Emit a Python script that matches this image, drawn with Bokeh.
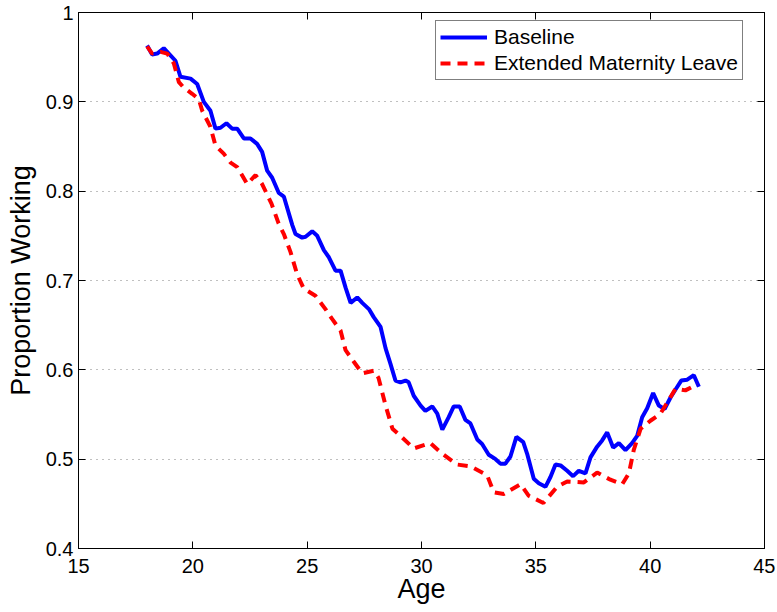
from bokeh.plotting import figure
from bokeh.models import (LinearAxis, FixedTicker, NumeralTickFormatter, Legend,
                          LegendItem, Range1d, CustomLabelingPolicy)
from bokeh.embed import file_html
from bokeh.resources import INLINE

# ---- data ----
baseline_age = [18.0, 18.22, 18.44, 18.73, 18.95, 19.24, 19.46, 19.90, 20.19, 20.48,
                20.77, 20.99, 21.21, 21.47, 21.72, 21.94, 22.23, 22.52, 22.81, 23.03,
                23.25, 23.47, 23.76, 23.98, 24.35, 24.49, 24.78, 24.93, 25.22, 25.44,
                25.73, 25.95, 26.24, 26.46, 26.68, 26.90, 27.19, 27.41, 27.70, 27.91,
                28.21, 28.43, 28.64, 28.86, 29.08, 29.30, 29.44, 29.66, 29.96, 30.17,
                30.47, 30.69, 30.91, 31.19, 31.41, 31.67, 31.92, 32.14, 32.44, 32.65,
                32.94, 33.24, 33.45, 33.67, 33.89, 34.15, 34.45, 34.62, 34.91, 35.13,
                35.42, 35.64, 35.86, 36.08, 36.37, 36.63, 36.88, 37.17, 37.39, 37.68,
                37.90, 38.12, 38.38, 38.63, 38.92, 39.21, 39.43, 39.65, 39.87, 40.13,
                40.38, 40.63, 40.89, 41.11, 41.36, 41.62, 41.91, 42.13]
baseline_val = [0.963, 0.953, 0.954, 0.960, 0.954, 0.946, 0.928, 0.926, 0.920, 0.900,
                0.890, 0.870, 0.871, 0.876, 0.870, 0.870, 0.859, 0.859, 0.853, 0.844,
                0.823, 0.815, 0.798, 0.794, 0.762, 0.752, 0.748, 0.749, 0.755, 0.750,
                0.734, 0.726, 0.711, 0.711, 0.692, 0.675, 0.681, 0.675, 0.668, 0.659,
                0.648, 0.624, 0.607, 0.588, 0.586, 0.588, 0.586, 0.571, 0.560, 0.554,
                0.559, 0.551, 0.533, 0.547, 0.559, 0.559, 0.544, 0.540, 0.522, 0.517,
                0.505, 0.500, 0.495, 0.495, 0.503, 0.525, 0.519, 0.506, 0.478, 0.473,
                0.469, 0.480, 0.494, 0.493, 0.487, 0.481, 0.487, 0.484, 0.502, 0.514,
                0.521, 0.530, 0.513, 0.518, 0.510, 0.518, 0.526, 0.547, 0.557, 0.574,
                0.560, 0.556, 0.569, 0.578, 0.588, 0.589, 0.594, 0.581]

extended_age = [18.0, 18.22, 18.59, 18.88, 19.17, 19.39, 19.60, 19.97, 20.26, 20.41,
                20.77, 20.99, 21.35, 21.65, 21.94, 22.38, 22.74, 23.03, 23.44, 23.75,
                23.98, 24.27, 24.56, 24.85, 25.36, 25.80, 26.09, 26.46, 26.68, 27.04,
                27.41, 27.91, 28.12, 28.43, 28.73, 29.08, 29.66, 30.39, 30.91, 31.56,
                32.14, 32.87, 33.16, 33.60, 34.33, 34.69, 35.33, 35.93, 36.37, 37.10,
                37.68, 38.26, 38.78, 39.07, 39.28, 39.58, 40.01, 40.45, 40.81, 41.11,
                41.54, 42.06]
extended_val = [0.962, 0.954, 0.956, 0.954, 0.943, 0.922, 0.916, 0.909, 0.903, 0.890,
                0.872, 0.851, 0.842, 0.832, 0.827, 0.808, 0.818, 0.808, 0.786, 0.764,
                0.752, 0.732, 0.707, 0.691, 0.683, 0.668, 0.657, 0.644, 0.622, 0.609,
                0.596, 0.599, 0.591, 0.560, 0.534, 0.526, 0.512, 0.518, 0.506, 0.494,
                0.492, 0.482, 0.463, 0.461, 0.472, 0.459, 0.451, 0.469, 0.475, 0.474,
                0.485, 0.477, 0.472, 0.484, 0.510, 0.534, 0.543, 0.551, 0.566, 0.579,
                0.577, 0.584]

series_names = ["Baseline", "Extended Maternity Leave"]
x_ticks = [15, 20, 25, 30, 35, 40, 45]
y_ticks = [0.4, 0.5, 0.6, 0.7, 0.8, 0.9, 1.0]
x_label = "Age"
y_label = "Proportion Working"

FONT = "Liberation Sans"

p = figure(width=775, height=610,
           x_range=Range1d(15, 45), y_range=Range1d(0.4, 1.0),
           output_backend="svg", toolbar_location=None,
           min_border_left=78, min_border_right=11,
           min_border_top=12, min_border_bottom=62)

p.background_fill_color = "white"
p.border_fill_color = "white"
p.outline_line_color = "black"
p.outline_line_width = 1

# grid
p.xgrid.visible = False
p.ygrid.ticker = FixedTicker(ticks=y_ticks)
p.ygrid.grid_line_color = "#808080"
p.ygrid.grid_line_dash = "1 5"
p.ygrid.grid_line_width = 1

def style_axis(ax, labels=True):
    ax.axis_line_color = "black"
    ax.major_tick_line_color = "black"
    ax.major_tick_in = 7
    ax.major_tick_out = 0
    ax.minor_tick_line_color = None
    ax.major_label_text_font = FONT
    ax.major_label_text_color = "black"
    ax.major_label_text_font_size = "20px"
    if not labels:
        ax.major_label_policy = CustomLabelingPolicy(code="")
        ax.major_label_standoff = 0
        ax.major_label_text_font_size = "1px"

xa = p.xaxis[0]
ya = p.yaxis[0]
xa.ticker = FixedTicker(ticks=x_ticks)
ya.ticker = FixedTicker(ticks=y_ticks)
ya.formatter = NumeralTickFormatter(format="0.[0]")
style_axis(xa)
style_axis(ya)
xa.major_label_standoff = 10
ya.major_label_standoff = 5
xa.axis_label = x_label
ya.axis_label = y_label
for ax in (xa, ya):
    ax.axis_label_text_font = FONT
    ax.axis_label_text_font_size = "27px"
    ax.axis_label_text_font_style = "normal"
    ax.axis_label_text_color = "black"
xa.axis_label_standoff = -2
ya.axis_label_standoff = 7

top = LinearAxis(ticker=FixedTicker(ticks=x_ticks))
right = LinearAxis(ticker=FixedTicker(ticks=y_ticks))
style_axis(top, labels=False)
style_axis(right, labels=False)
p.add_layout(top, "above")
p.add_layout(right, "right")

r1 = p.line(baseline_age, baseline_val, line_color="#0000ff", line_width=4)
r2 = p.line(extended_age, extended_val, line_color="#ff0000", line_width=4,
            line_dash="10 7")

legend = Legend(items=[LegendItem(label=series_names[0], renderers=[r1]),
                       LegendItem(label=series_names[1], renderers=[r2])],
                location=(357, 468))
legend.margin = 0
legend.border_line_color = "black"
legend.border_line_width = 1
legend.background_fill_color = "white"
legend.background_fill_alpha = 1
legend.label_text_font = FONT
legend.label_text_font_size = "21px"
legend.label_text_color = "black"
legend.glyph_width = 47
legend.glyph_height = 24
legend.label_height = 24
legend.label_standoff = 7
legend.padding = 4
legend.spacing = 2
p.add_layout(legend, "center")

open("out.html", "w").write(file_html(p, INLINE))
